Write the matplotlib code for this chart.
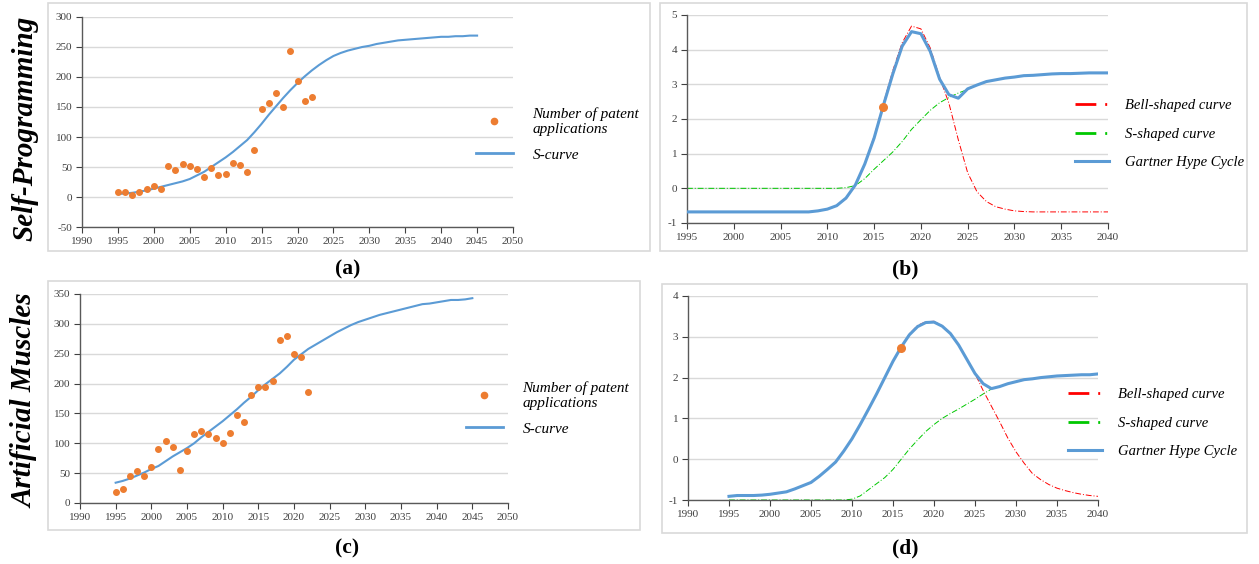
import matplotlib
matplotlib.use("Agg")
import matplotlib.pyplot as plt
from matplotlib.lines import Line2D
from matplotlib.patches import Rectangle

plt.rcParams['font.family'] = ['Liberation Serif', 'DejaVu Serif']
plt.rcParams['axes.unicode_minus'] = False

# patent applications per year
patent_years = list(range(1995, 2023))
sp_patents = [9, 9, 3, 9, 13, 19, 13, 52, 45, 55, 52, 47, 34, 49, 37, 38,
              57, 53, 42, 78, 146, 156, 173, 150, 244, 193, 160, 167]
am_patents = [19, 23.5, 45, 54, 45, 60, 90, 104, 93, 56, 87, 116, 121, 115,
              109, 101, 117, 147, 136, 181, 194, 194, 205, 273, 279, 249, 245, 186]

# fitted S-curves
curve_years = list(range(1995, 2046))
sp_curve = [5, 6, 7, 9, 11, 14, 17, 20, 23, 26,
            30, 36, 42, 50, 58, 66, 75, 85, 95, 108,
            122, 137, 151, 165, 178, 190, 201, 211, 220, 228,
            235, 240, 244, 247, 250, 252, 255, 257, 259, 261,
            262, 263, 264, 265, 266, 267, 267, 268, 268, 269, 269]
am_curve = [34, 37, 41, 46, 51, 57, 62, 70, 78, 85,
            92, 100, 110, 119, 128, 137, 147, 157, 168, 178,
            189, 199, 208, 217, 228, 240, 249, 258, 265, 272,
            279, 286, 292, 298, 303, 307, 311, 315, 318, 321,
            324, 327, 330, 333, 334, 336, 338, 340, 340, 341, 343]

# hype cycle decomposition
hype_years = list(range(1995, 2041))
sp_hype = [-0.68, -0.68, -0.68, -0.68, -0.68, -0.68, -0.68, -0.68, -0.68, -0.68,
           -0.68, -0.68, -0.68, -0.68, -0.65, -0.6, -0.5, -0.28, 0.1, 0.7,
           1.45, 2.4, 3.3, 4.1, 4.52, 4.46, 3.95, 3.15, 2.7, 2.6,
           2.87, 2.98, 3.08, 3.13, 3.18, 3.21, 3.25, 3.26, 3.28, 3.3,
           3.31, 3.31, 3.32, 3.33, 3.33, 3.33]
sp_bell = [-0.68, -0.68, -0.68, -0.68, -0.68, -0.68, -0.68, -0.68, -0.68, -0.68,
           -0.68, -0.68, -0.68, -0.68, -0.65, -0.6, -0.5, -0.3, 0.08, 0.7,
           1.5, 2.45, 3.4, 4.2, 4.68, 4.6, 4.05, 3.2, 2.45, 1.4,
           0.45, -0.1, -0.38, -0.53, -0.6, -0.65, -0.67, -0.68, -0.68, -0.68,
           -0.68, -0.68, -0.68, -0.68, -0.68, -0.68]
sp_s_years = list(range(1995, 2026))
sp_s = [0, 0, 0, 0, 0, 0, 0, 0, 0, 0, 0, 0, 0, 0, 0, 0, 0,
        0.02, 0.08, 0.28, 0.55, 0.8, 1.05, 1.35, 1.7, 1.98, 2.25, 2.47, 2.62, 2.75, 2.85]
sp_point = (2016, 2.36)

am_hype = [-0.91, -0.89, -0.89, -0.89, -0.88, -0.86, -0.83, -0.8, -0.73, -0.65,
           -0.57, -0.42, -0.25, -0.07, 0.2, 0.5, 0.85, 1.22, 1.6, 2.0,
           2.4, 2.75, 3.05, 3.25, 3.35, 3.36, 3.26, 3.08, 2.8, 2.45,
           2.1, 1.85, 1.73, 1.78, 1.85, 1.9, 1.95, 1.97, 2.0, 2.02,
           2.04, 2.05, 2.06, 2.07, 2.07, 2.09]
am_bell = [-0.91, -0.89, -0.89, -0.89, -0.88, -0.86, -0.83, -0.8, -0.73, -0.65,
           -0.57, -0.42, -0.25, -0.07, 0.2, 0.5, 0.85, 1.22, 1.6, 2.0,
           2.4, 2.75, 3.07, 3.28, 3.37, 3.38, 3.27, 3.08, 2.8, 2.45,
           2.1, 1.68, 1.3, 0.92, 0.52, 0.18, -0.1, -0.35, -0.5, -0.62,
           -0.71, -0.77, -0.82, -0.86, -0.89, -0.91]
am_s_years = list(range(1995, 2028))
am_s = [-1, -1, -1, -1, -1, -1, -1, -1, -1, -1, -1, -1, -1, -1, -1,
        -0.98, -0.9, -0.75, -0.6, -0.45, -0.25, 0.0, 0.25, 0.47, 0.68,
        0.85, 1.0, 1.12, 1.23, 1.35, 1.47, 1.6, 1.72]
am_point = (2016, 2.72)

W, H = 1259, 564
ORANGE = '#ED7D31'
BLUE = '#5B9BD5'
RED = '#FF0000'
GREEN = '#00C800'
GRID = '#D9D9D9'
AXIS = '#595959'


def px_axes(fig, x0, y0, x1, y1):
    """Axes from pixel box (top-left origin)"""
    return fig.add_axes([x0 / W, 1 - y1 / H, (x1 - x0) / W, (y1 - y0) / H])


def px_frame(fig, x0, y0, x1, y1):
    """Light grey frame around a panel"""
    fig.patches.append(Rectangle((x0 / W, 1 - y1 / H), (x1 - x0) / W, (y1 - y0) / H,
                                 transform=fig.transFigure, fill=False,
                                 edgecolor=GRID, linewidth=1.2))


def style_axes(ax, xticks, yticks):
    ax.set_xticks(xticks)
    ax.set_yticks(yticks)
    ax.set_xlim(xticks[0], xticks[-1])
    ax.set_ylim(yticks[0], yticks[-1])
    for side in ('top', 'right'):
        ax.spines[side].set_visible(False)
    for side in ('left', 'bottom'):
        ax.spines[side].set_color(AXIS)
        ax.spines[side].set_linewidth(1.0)
    ax.tick_params(labelsize=8, colors='#404040', length=4, width=0.8, pad=3)
    ax.yaxis.grid(True, color=GRID, linewidth=1.0)
    ax.set_axisbelow(True)


def legend_at(fig, ax, handles, labels, x, y, size, handlelength, textpad, spacing):
    ax.legend(handles, labels, loc='upper left', bbox_to_anchor=(x / W, 1 - y / H),
              bbox_transform=fig.transFigure, frameon=False, borderpad=0,
              borderaxespad=0, handlelength=handlelength, handletextpad=textpad,
              labelspacing=spacing, prop={'family': 'Liberation Serif',
                                          'style': 'italic', 'size': size})


def patents_panel(fig, ax, patents, curve, yticks, leg_xy):
    ax.plot(curve_years, curve, color=BLUE, linewidth=1.5, zorder=2)
    ax.scatter(patent_years, patents, s=16, color=ORANGE, zorder=3)
    style_axes(ax, list(range(1990, 2051, 5)), yticks)
    handles = [Line2D([], [], marker='o', ls='none', color=ORANGE, markersize=4.5),
               Line2D([], [], color=BLUE, linewidth=2)]
    legend_at(fig, ax, handles, ['Number of patent\napplications', 'S-curve'],
              leg_xy[0], leg_xy[1], 11, 2.4, 1.3, 0.8)


def hype_panel(fig, ax, hype, bell, s_years, s_vals, point, xticks, yticks, leg_xy):
    dashdot = (0, (6, 2, 1, 2))
    ax.plot(hype_years, bell, color=RED, linewidth=0.7, linestyle=dashdot, zorder=2)
    ax.plot(s_years, s_vals, color=GREEN, linewidth=0.7, linestyle=dashdot, zorder=2)
    ax.plot(hype_years, hype, color=BLUE, linewidth=2.2, zorder=3)
    ax.scatter([point[0]], [point[1]], s=30, color=ORANGE, zorder=4)
    style_axes(ax, xticks, yticks)
    handles = [Line2D([], [], color=RED, linewidth=2, dashes=(7.5, 3.2, 0.7, 10)),
               Line2D([], [], color=GREEN, linewidth=2, dashes=(7.5, 3.2, 0.7, 10)),
               Line2D([], [], color=BLUE, linewidth=2.2)]
    legend_at(fig, ax, handles, ['Bell-shaped curve', 'S-shaped curve', 'Gartner Hype Cycle'],
              leg_xy[0], leg_xy[1], 10.5, 2.3, 1.1, 1.05)


def main() -> None:
    fig = plt.figure(figsize=(W / 100, H / 100), dpi=100)

    # panel frames
    px_frame(fig, 48, 3, 650, 251)
    px_frame(fig, 660, 3, 1247, 251)
    px_frame(fig, 48, 281, 640, 530)
    px_frame(fig, 662, 284, 1247, 533)

    ax_a = px_axes(fig, 82, 17, 513, 227)
    patents_panel(fig, ax_a, sp_patents, sp_curve, list(range(-50, 301, 50)), (476, 107))

    ax_c = px_axes(fig, 80, 294, 508, 503)
    patents_panel(fig, ax_c, am_patents, am_curve, list(range(0, 351, 50)), (466, 381))

    ax_b = px_axes(fig, 687, 15, 1108, 223)
    hype_panel(fig, ax_b, sp_hype, sp_bell, sp_s_years, sp_s, sp_point,
               list(range(1995, 2041, 5)), list(range(-1, 6)), (1075, 99))

    ax_d = px_axes(fig, 688, 296, 1098, 500)
    hype_panel(fig, ax_d, am_hype, am_bell, am_s_years, am_s, am_point,
               list(range(1990, 2041, 5)), list(range(-1, 5)), (1068, 388))

    # panel letters and row titles
    for label, x, y in [('(a)', 348, 269), ('(b)', 905, 269), ('(c)', 347, 548), ('(d)', 905, 548)]:
        fig.text(x / W, 1 - y / H, label, ha='center', va='center',
                 fontsize=15.5, fontweight='bold')
    for label, y in [('Self-Programming', 128), ('Artificial Muscles', 401)]:
        fig.text(25 / W, 1 - y / H, label, ha='center', va='center', rotation=90,
                 fontsize=21, fontweight='bold', style='italic')

    fig.savefig('out.png', dpi=100)


if __name__ == "__main__":
    main()
